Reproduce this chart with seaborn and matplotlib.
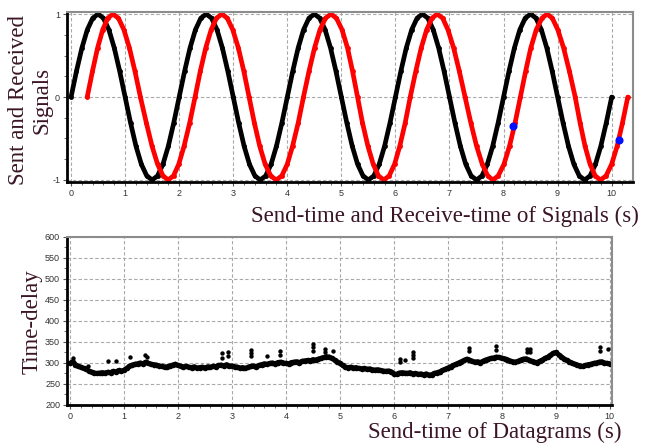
import numpy as np
import pandas as pd
import matplotlib
matplotlib.use('Agg')
import matplotlib.pyplot as plt
import seaborn as sns
from matplotlib.ticker import MultipleLocator

# Sent signal, sampled every 0.1 s (one row per 2 s period)
send_step = 0.1
sent_signal = [
    0.00, 0.31, 0.59, 0.81, 0.95, 1.00, 0.95, 0.81, 0.59, 0.31, 0.00, -0.31, -0.59, -0.81, -0.95, -1.00, -0.95, -0.81, -0.59, -0.31,
    0.00, 0.31, 0.59, 0.81, 0.95, 1.00, 0.95, 0.81, 0.59, 0.31, 0.00, -0.31, -0.59, -0.81, -0.95, -1.00, -0.95, -0.81, -0.59, -0.31,
    0.00, 0.31, 0.59, 0.81, 0.95, 1.00, 0.95, 0.81, 0.59, 0.31, 0.00, -0.31, -0.59, -0.81, -0.95, -1.00, -0.95, -0.81, -0.59, -0.31,
    0.00, 0.31, 0.59, 0.81, 0.95, 1.00, 0.95, 0.81, 0.59, 0.31, 0.00, -0.31, -0.59, -0.81, -0.95, -1.00, -0.95, -0.81, -0.59, -0.31,
    0.00, 0.31, 0.59, 0.81, 0.95, 1.00, 0.95, 0.81, 0.59, 0.31, 0.00, -0.31, -0.59, -0.81, -0.95, -1.00, -0.95, -0.81, -0.59, -0.31,
    0.00,
]

# Time-delay of datagrams (ms), sampled every 0.05 s (one row per second)
delay_step = 0.05
delay_ms = [
    299, 303, 296, 292, 290, 287, 285, 281, 278, 276, 275, 276, 277, 276, 278, 277, 280, 279, 282, 280,
    283, 287, 292, 295, 297, 298, 300, 298, 302, 299, 297, 296, 295, 293, 292, 290, 291, 293, 295, 297,
    294, 292, 290, 292, 290, 289, 291, 288, 289, 290, 288, 291, 290, 292, 291, 294, 295, 293, 296, 292,
    293, 291, 290, 288, 289, 287, 290, 292, 293, 291, 294, 296, 298, 297, 299, 300, 298, 301, 302, 300,
    299, 298, 301, 302, 303, 301, 304, 305, 306, 305, 308, 307, 309, 311, 313, 315, 314, 311, 307, 303,
    299, 294, 290, 289, 290, 288, 289, 287, 286, 287, 285, 286, 284, 283, 284, 282, 281, 280, 281, 279,
    274, 273, 276, 277, 276, 275, 277, 274, 275, 273, 274, 272, 274, 271, 272, 275, 277, 279, 282, 285,
    288, 291, 294, 297, 300, 303, 306, 309, 307, 304, 302, 303, 301, 304, 307, 309, 311, 312, 314, 313,
    311, 310, 308, 305, 303, 302, 304, 307, 309, 310, 307, 304, 302, 301, 304, 307, 311, 314, 318, 323,
    325, 320, 315, 310, 306, 303, 300, 297, 295, 293, 292, 294, 296, 297, 299, 300, 302, 303, 300, 299,
    298,
]

# Outlying delays above the main band
spike_time = [0.05, 0.34, 0.71, 0.86, 1.11, 1.39, 1.42, 2.81, 2.81, 2.93, 2.93, 3.36, 3.36, 3.36,
              3.64, 3.89, 3.89, 4.50, 4.50, 4.50, 4.72, 4.72, 4.88, 6.11, 6.11, 6.20, 6.36, 6.36, 6.36,
              7.39, 7.39, 7.90, 7.90, 8.46, 8.46, 8.52, 8.52, 9.81, 9.81, 9.97]
spike_ms = [311, 293, 305, 305, 313, 319, 314, 323, 311, 325, 316, 330, 323, 316,
            316, 329, 320, 346, 337, 329, 334, 327, 329, 310, 303, 306, 327, 318, 311,
            336, 329, 341, 331, 333, 327, 333, 327, 339, 329, 333]

# Received samples highlighted in blue
blue_time = [8.18, 10.13]
blue_value = [-0.35, -0.52]

send_time = np.round(np.arange(len(sent_signal)) * send_step, 3)
delay_time = np.round(np.arange(len(delay_ms)) * delay_step, 3)
recv_time = send_time + np.array(delay_ms[::2]) / 1000.0

sent_df = pd.DataFrame({'t': send_time, 'v': sent_signal})
recv_df = pd.DataFrame({'t': recv_time, 'v': sent_signal})
delay_df = pd.DataFrame({'t': delay_time, 'd': delay_ms})
spike_df = pd.DataFrame({'t': spike_time, 'd': spike_ms})

sns.set_style('white')
plt.rcParams['font.family'] = ['Liberation Sans', 'DejaVu Sans']
plt.rcParams['axes.unicode_minus'] = False

label_color = '#3a1526'
serif = ['Liberation Serif', 'DejaVu Serif']
grid_kw = dict(color='#a8a8a8', linestyle=(0, (3, 2)), linewidth=0.8)

fig = plt.figure(figsize=(6.51, 4.46), dpi=100)
ax1 = fig.add_axes([0.103, 0.592, 0.869, 0.381])
ax2 = fig.add_axes([0.103, 0.092, 0.837, 0.377])

# Top: sent and received signals
sns.lineplot(data=sent_df, x='t', y='v', ax=ax1, color='black', lw=3.4,
             marker='o', markersize=3.5, markeredgewidth=0, sort=False, estimator=None)
sns.lineplot(data=recv_df, x='t', y='v', ax=ax1, color='#ff0000', lw=3.4,
             marker='o', markersize=3.5, markeredgewidth=0, sort=False, estimator=None)
sns.scatterplot(x=blue_time, y=blue_value, ax=ax1, color='#0010ff', s=34,
                linewidth=0, zorder=5)
ax1.set_xlim(-0.074, 10.39)
ax1.set_ylim(-1.024, 1.024)
ax1.set_xticks(range(0, 11))
ax1.set_yticks([-1, 0, 1])
ax1.xaxis.set_minor_locator(MultipleLocator(0.2))
ax1.yaxis.set_minor_locator(MultipleLocator(0.25))

# Bottom: time-delay
sns.lineplot(data=delay_df, x='t', y='d', ax=ax2, color='black', lw=3.6,
             marker='o', markersize=4, markeredgewidth=0, sort=False, estimator=None)
sns.scatterplot(data=spike_df, x='t', y='d', ax=ax2, color='black', s=10,
                linewidth=0, zorder=5)
ax2.set_xlim(-0.056, 10.04)
ax2.set_ylim(200, 600)
ax2.set_xticks(range(0, 11))
ax2.set_yticks(range(200, 601, 50))
ax2.xaxis.set_minor_locator(MultipleLocator(0.2))
ax2.yaxis.set_minor_locator(MultipleLocator(25))

for ax in (ax1, ax2):
    ax.set_xlabel('')
    ax.set_ylabel('')
    ax.grid(True, which='major', **grid_kw)
    ax.set_axisbelow(True)
    for side in ('left', 'bottom'):
        ax.spines[side].set_color('black')
        ax.spines[side].set_linewidth(2)
    for side in ('top', 'right'):
        ax.spines[side].set_color('#8c8c8c')
        ax.spines[side].set_linewidth(1.5)
    ax.tick_params(which='major', length=3, width=0.8, color='#555555',
                   labelsize=6.5, labelcolor='#333333', pad=2,
                   left=True, bottom=True)
    ax.tick_params(which='minor', length=2, width=0.6, color='#555555',
                   left=True, bottom=True)

fig.text(0.047, 0.775, 'Sent and Received\nSignals', rotation=90, ha='center',
         va='center', family=serif, fontsize=16.5, color=label_color,
         linespacing=1.15)
fig.text(0.05, 0.278, 'Time-delay', rotation=90, ha='center', va='center',
         family=serif, fontsize=16.5, color=label_color)
fig.text(0.982, 0.515, 'Send-time and Receive-time of Signals (s)', ha='right',
         va='center', family=serif, fontsize=16.5, color=label_color)
fig.text(0.955, 0.03, 'Send-time of Datagrams (s)', ha='right', va='center',
         family=serif, fontsize=16.5, color=label_color)

fig.savefig('out.png', dpi=100)
